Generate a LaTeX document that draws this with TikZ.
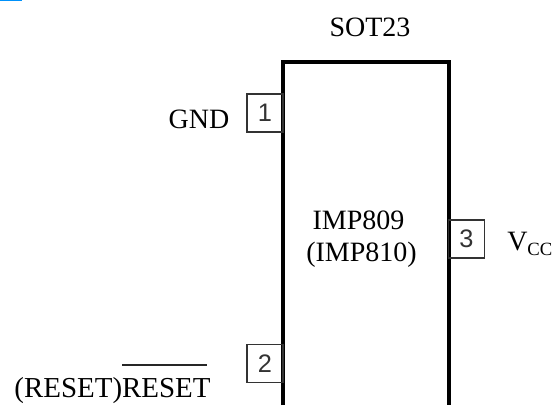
\documentclass[tikz,border=0pt]{standalone}
\usepackage{fontspec}
\setmainfont{Liberation Serif}
\newfontfamily\pinfont{Liberation Sans}
\tikzset{
 px/.style={x=0.75pt,y=-0.75pt},
 lbl/.style={inner sep=0pt,font=\fontsize{21}{25}\selectfont,anchor=base,text=black},
 pinbox/.style={draw=black!80,line width=1.2pt,inner sep=0pt,minimum width=27pt,minimum height=28.5pt,font=\pinfont\fontsize{19}{21}\selectfont,text=black!80},
 bodyline/.style={line width=3pt,black,line join=miter}
}
\definecolor{linkblue}{RGB}{0,145,250}
\begin{document}
\begin{tikzpicture}[px]
\useasboundingbox (0,0) rectangle (552,405);
\fill[white] (0,0) rectangle (552,405);
\fill[linkblue] (0,0) rectangle (22,1.3);
\coordinate (bl) at (283,405);
\coordinate (tl) at (283,62);
\coordinate (tr) at (449,62);
\coordinate (br) at (449,405);
\draw[bodyline] (bl) -- (tl) -- (tr) -- (br);
\node[pinbox] (p1) at (265,113) {1};
\node[pinbox] (p2) at (265,363.5) {2};
\node[pinbox] (p3) at (466.5,239) {3};
\node[lbl] (sot) at (370,36) {SOT23};
\node[lbl] (gnd) at (199,128.5) {GND};
\node[lbl] (imp1) at (358.5,229) {IMP809};
\node[lbl] (imp2) at (361.5,261) {(IMP810)};
\node[lbl,anchor=base west] (vcc) at (507,250.5) {V\raisebox{-0.18em}{\fontsize{14}{16}\selectfont CC}};
\node[lbl,font=\fontsize{21.7}{25}\selectfont] (rst) at (112.5,397.5) {(RESET)RESET};
\coordinate (o1) at (122,365);
\coordinate (o2) at (207,365);
\draw[black!85,line width=0.9pt] (o1) -- (o2);
\end{tikzpicture}
\end{document}
